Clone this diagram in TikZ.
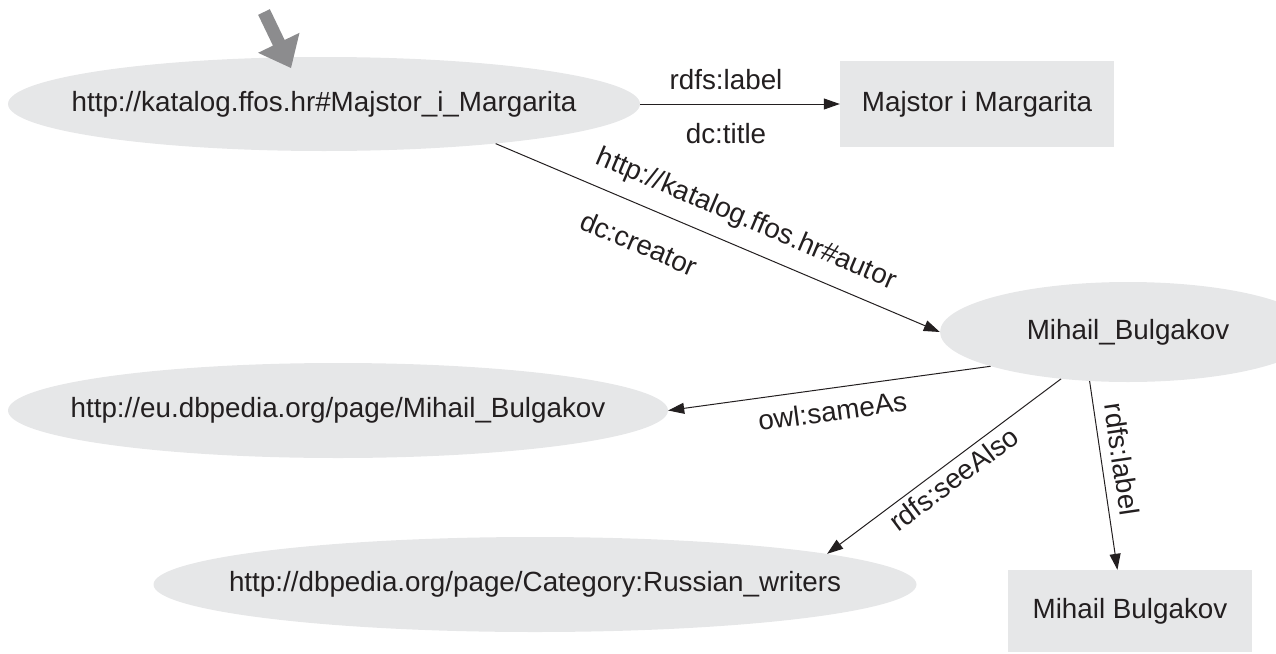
\documentclass[tikz,border=0pt]{standalone}
\usepackage{fontspec}
\setmainfont{Liberation Sans}
\usetikzlibrary{shapes.geometric,arrows.meta}
\definecolor{nodefill}{HTML}{E6E7E8}
\definecolor{ptrgray}{HTML}{8C8C8E}
\definecolor{ink}{HTML}{231F20}
\newcommand\dsz{\fontsize{27.8pt}{33pt}\selectfont}
\begin{document}
\begin{tikzpicture}[x=1pt,y=-1pt,
  every node/.style={font=\dsz, text=ink},
  res/.style={ellipse, fill=nodefill, inner sep=0pt},
  lit/.style={rectangle, fill=nodefill, inner sep=0pt},
  edge/.style={draw=ink, line width=1pt, -{Triangle[length=16pt,width=11pt]}}]
\useasboundingbox (0,0) rectangle (1276,653);
% resources
\node[res, minimum width=632pt, minimum height=94pt] (n1) at (324,104)
  {\makebox[0pt]{http://katalog.ffos.hr\#Majstor\_i\_Margarita}};
\node[res, minimum width=376pt, minimum height=100pt] (n2) at (1128,332)
  {\makebox[0pt]{Mihail\_Bulgakov}};
\node[res, minimum width=660pt, minimum height=95pt] (n3) at (338,410.5)
  {\makebox[0pt]{http://eu.dbpedia.org/page/Mihail\_Bulgakov}};
\node[res, minimum width=763pt, minimum height=95pt] (n4) at (535,584.5)
  {\makebox[0pt]{http://dbpedia.org/page/Category:Russian\_writers}};
% literals
\node[lit, minimum width=274pt, minimum height=86pt] (b1) at (977,104) {Majstor i Margarita};
\node[lit, minimum width=244pt, minimum height=82pt] (b2) at (1130,611) {Mihail Bulgakov};
% pointer
\fill[ptrgray] (269.85,9.18) -- (284.65,39.98) -- (299.5,32.8) -- (291,68)
  -- (258.1,52.8) -- (272.95,45.62) -- (258.15,14.82) -- cycle;
% edges
\draw[edge] (n1.east) -- node[above, pos=0.43, inner sep=14pt] {rdfs:label}
  node[below, pos=0.43, inner sep=19pt] {dc:title} (b1.west);
\draw[edge] (n1.-13) -- node[sloped, above, pos=0.54, inner sep=14pt] {http://katalog.ffos.hr\#autor}
  node[sloped, below, pos=0.355, inner sep=25pt] {dc:creator} (n2.west);
\draw[edge] (n2.-166) -- node[sloped, below, inner sep=12pt] {owl:sameAs} (n3.east);
\draw[edge] (n2.-145) -- node[sloped, below, inner sep=5pt] {rdfs:seeAlso} (n4.6);
\draw[edge] (n2.-128) -- node[sloped, above, pos=0.43, inner sep=10pt] {rdfs:label} (b2.107);
\end{tikzpicture}
\end{document}
